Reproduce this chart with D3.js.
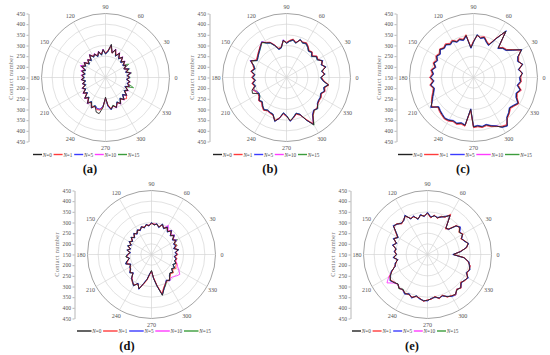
<!DOCTYPE html>
<html>
<head>
<meta charset="utf-8">
<script src="https://cdn.jsdelivr.net/npm/d3@7"></script>
<style>
  body { margin: 0; background: #fff; }
  svg { display: block; }
</style>
</head>
<body>
<script>
var angles = [0,5,10,15,20,25,30,35,40,45,50,55,60,65,70,75,80,85,90,95,100,105,110,115,
              120,125,130,135,140,145,150,155,160,165,170,175,180,185,190,195,200,205,210,215,220,225,230,235,
              240,245,250,255,260,265,270,275,280,285,290,295,300,305,310,315,320,325,330,335,340,345,350,355]

var seriesNames = ["0", "1", "5", "10", "15"]
var seriesColors = ["#222222", "#ff3b3b", "#3b3bff", "#ff3bff", "#3c9c3c"]
var radialTicks = [150, 200, 250, 300, 350, 400, 450]
var angleTicks = [0, 30, 60, 90, 120, 150, 180, 210, 240, 270, 300, 330]

// (a)
var aN0 = [262,252,270,248,266,244,262,250,268,252,275,258,282,262,290,270,308,272,262,282,258,276,256,272,
           262,280,255,268,250,272,258,275,250,266,248,262,250,264,246,262,250,270,258,278,262,288,272,298,
           282,308,292,318,322,292,242,282,302,286,300,278,292,270,286,264,280,258,272,252,270,256,266,250]
var aN1 = [258,256,266,252,262,248,258,254,264,256,270,262,278,266,286,268,300,276,266,278,262,272,260,268,
           266,276,260,264,254,268,262,270,254,262,252,258,254,260,250,258,254,266,262,274,266,284,276,292,
           286,300,296,306,305,290,248,278,298,290,296,282,288,274,282,290,276,262,268,256,266,260,262,254]
var aN5 = [265,250,268,246,268,246,260,248,266,250,272,256,280,260,288,268,302,270,260,280,256,274,254,270,
           260,278,253,266,248,270,256,273,248,264,246,260,248,262,244,260,248,268,256,276,260,286,270,296,
           280,304,290,300,302,284,250,286,304,288,298,276,290,268,284,262,278,256,270,250,268,254,264,248]
var aN10 = [260,254,272,250,264,246,264,252,270,254,277,260,284,264,292,272,304,274,264,284,260,278,258,274,
            264,282,257,270,252,274,262,282,256,270,250,266,252,266,248,264,252,272,260,280,264,290,274,300,
            284,306,294,305,300,288,246,284,300,288,302,280,294,272,288,266,282,260,274,254,272,258,268,252]
var aN15 = [266,256,274,252,270,248,275,254,266,250,273,256,280,260,288,268,298,270,260,280,256,274,254,270,
            260,278,253,266,248,270,256,273,248,264,246,260,248,262,244,260,248,268,256,276,260,286,270,296,
            280,302,290,302,300,288,252,284,300,284,298,276,290,268,284,262,278,256,270,252,290,258,268,250]

// (b)
var bN0 = [312,330,318,340,325,335,318,322,305,318,312,325,335,330,338,318,330,322,312,325,292,288,310,330,
           338,352,340,330,322,315,310,335,315,305,318,300,310,298,312,302,322,326,300,305,318,312,325,335,
           328,332,335,362,345,318,330,355,340,325,335,370,405,365,350,355,340,335,335,328,340,332,350,322]
var bN1 = [315,326,322,336,328,332,320,325,308,320,315,328,338,333,335,320,333,325,315,322,295,292,312,332,
           340,350,342,332,325,318,314,332,318,308,320,304,314,302,315,306,318,308,304,308,320,315,328,338,
           330,335,338,358,342,322,333,352,342,328,338,366,400,368,352,352,342,338,338,330,342,336,352,326]
var bN5 = [310,332,316,342,322,338,316,320,303,316,310,323,333,328,340,316,328,320,310,327,290,286,308,328,
           336,354,338,328,320,313,308,337,313,303,316,298,308,296,310,300,320,306,298,303,316,310,323,333,
           326,330,333,364,343,316,328,357,338,323,333,372,403,362,348,357,338,333,333,326,338,330,348,320]
var bN10 = [314,328,320,338,327,333,320,324,307,320,314,327,337,332,336,320,332,324,314,327,294,290,312,332,
            340,354,342,332,324,317,312,338,317,307,320,302,312,300,314,304,316,304,302,307,320,314,327,337,
            330,334,337,360,347,320,332,353,342,327,337,368,402,362,352,353,342,337,337,330,342,334,348,324]
var bN15 = [309,332,315,342,323,337,315,320,302,316,310,322,332,327,340,316,327,320,310,323,290,286,307,327,
            335,350,337,327,320,313,308,333,313,302,316,298,308,296,310,300,314,302,298,302,316,310,323,333,
            326,330,333,360,343,316,328,353,338,323,333,368,408,368,352,357,342,337,333,326,340,330,348,320]

// (c)
var cN0 = [368,380,365,388,372,380,410,375,350,345,330,415,360,318,328,345,338,350,318,290,350,332,340,335,
           348,340,352,345,355,342,350,338,348,335,350,340,352,338,355,342,350,362,375,392,365,372,378,385,
           382,375,380,372,378,300,382,378,385,380,392,402,418,425,395,385,372,380,392,372,365,378,360,372]
var cN1 = [372,377,368,384,375,384,406,378,354,348,334,410,364,322,332,348,342,346,322,294,354,336,344,338,
           352,344,356,348,358,346,354,342,352,338,354,344,356,342,358,345,354,366,378,388,368,376,382,388,
           386,378,384,376,382,305,385,382,388,384,395,404,414,420,398,388,376,384,395,376,368,382,364,375]
var cN5 = [365,382,362,390,369,378,412,372,347,342,327,418,357,315,325,342,335,352,315,287,347,329,337,332,
           345,337,349,342,352,339,347,335,345,332,347,337,349,335,352,339,347,359,372,396,362,369,375,382,
           379,372,377,369,375,297,379,375,382,377,389,400,420,428,392,382,369,377,389,369,362,375,357,369]
var cN10 = [370,378,367,386,374,382,408,377,352,347,332,412,362,320,330,347,340,348,320,292,352,334,342,337,
            350,342,354,347,357,344,352,340,350,337,352,342,354,340,357,344,352,364,377,390,367,374,380,387,
            384,377,382,374,380,302,384,380,387,382,394,400,416,422,397,387,374,382,394,374,367,380,362,374]
var cN15 = [366,381,364,389,371,380,411,374,349,344,329,416,359,317,327,344,337,351,317,289,349,331,339,334,
            347,339,351,344,354,341,349,337,347,334,349,339,351,337,354,341,349,361,374,393,364,371,377,384,
            381,374,379,371,377,299,381,377,384,379,391,401,419,426,394,384,371,379,394,371,364,377,359,371]

// (d)
var dN0 = [270,262,278,258,272,265,282,270,288,275,295,280,298,285,300,282,295,290,298,285,292,280,288,275,
           282,268,278,262,274,258,270,255,268,252,266,250,262,270,255,268,278,258,266,270,282,272,295,305,
           318,300,322,290,268,240,225,262,300,348,320,305,290,298,282,272,280,265,275,260,272,262,268,258]
var dN1 = [274,265,274,262,276,268,278,274,284,278,291,284,294,288,296,285,292,293,294,288,288,284,285,278,
           278,272,275,265,270,262,266,258,264,256,262,254,258,266,258,264,274,262,263,273,278,275,292,308,
           314,304,318,294,272,244,230,258,296,340,316,302,294,295,286,276,284,270,282,276,275,265,272,262]
var dN5 = [268,260,280,256,270,263,284,268,290,273,297,278,300,283,302,280,297,288,300,283,294,278,290,273,
           284,266,280,260,276,256,272,253,270,250,268,248,264,268,253,270,280,256,268,268,284,270,297,303,
           320,298,324,288,266,238,228,264,302,345,322,303,288,300,280,274,278,267,273,262,270,264,266,256]
var dN10 = [272,266,276,262,274,268,286,274,292,280,298,286,308,288,298,285,292,294,296,288,290,283,286,278,
            280,271,276,265,272,261,268,258,266,255,264,253,260,267,258,266,276,260,264,272,280,274,292,306,
            315,302,320,292,270,242,232,260,298,342,318,303,292,300,292,296,305,312,298,285,278,268,270,262]
var dN15 = [269,263,279,259,278,270,290,272,292,277,296,281,297,284,301,283,296,289,299,286,293,281,289,276,
            283,269,279,263,275,259,271,256,269,253,267,251,263,271,256,269,279,259,267,271,283,273,296,306,
            319,301,321,291,269,241,227,263,301,346,322,308,292,297,283,273,281,266,276,261,273,263,269,259]

// (e)
var eN0 = [270,305,335,348,335,325,340,332,348,340,305,300,362,345,338,328,335,325,345,330,338,322,340,335,
           360,345,340,352,358,330,310,325,305,318,300,305,295,310,292,305,312,335,352,362,355,345,358,350,
           362,355,365,352,360,368,365,358,352,362,355,368,375,378,365,370,355,362,368,352,360,355,345,322]
var eN1 = [274,302,338,345,338,322,343,330,345,343,308,296,368,342,341,325,338,322,342,333,335,325,337,338,
           356,348,337,355,355,333,313,322,308,315,303,302,298,307,295,302,315,332,355,360,352,348,355,353,
           359,358,362,355,357,371,362,361,349,365,352,371,372,381,362,373,352,365,365,355,357,358,342,325]
var eN5 = [268,307,333,350,332,328,338,336,352,338,303,302,360,348,336,331,333,328,348,328,341,320,343,333,
           363,343,343,350,361,328,308,328,303,321,298,308,293,313,290,308,310,338,350,365,352,348,355,353,
           365,352,368,350,363,366,368,356,355,360,358,366,378,382,362,372,358,360,371,350,362,353,348,320]
var eN10 = [272,303,336,346,336,324,341,333,346,341,306,298,364,344,339,327,336,324,344,331,337,323,339,336,
            358,346,339,353,356,331,311,324,306,317,301,304,296,309,294,304,313,334,360,382,358,347,357,351,
            361,356,364,353,359,369,364,359,351,363,354,369,374,379,364,371,354,363,367,353,359,356,344,323]
var eN15 = [271,306,334,349,334,326,339,331,349,339,304,301,361,346,337,329,334,326,346,329,339,321,341,334,
            361,344,341,351,359,329,309,326,304,319,299,306,294,311,291,306,311,336,351,363,354,346,359,349,
            363,354,366,351,361,367,366,357,353,361,356,367,376,377,366,369,356,361,369,351,361,354,346,321]

var panels = [
  {label: "(a)", cx: 105.5, cy: 77.5,  legendX: 33,  legendY: 154.5, lineLen: 9,    labelX: 90,  labelY: 169, series: [aN0, aN1, aN5, aN10, aN15]},
  {label: "(b)", cx: 286.5, cy: 77.5,  legendX: 213, legendY: 154.5, lineLen: 9,    labelX: 270, labelY: 169, series: [bN0, bN1, bN5, bN10, bN15]},
  {label: "(c)", cx: 473.5, cy: 77.5,  legendX: 398, legendY: 154.5, lineLen: 14.5, labelX: 463, labelY: 169, series: [cN0, cN1, cN5, cN10, cN15]},
  {label: "(d)", cx: 151.5, cy: 254.5, legendX: 77,  legendY: 331,   lineLen: 14.5, labelX: 127, labelY: 346, series: [dN0, dN1, dN5, dN10, dN15]},
  {label: "(e)", cx: 427.5, cy: 254.5, legendX: 352, legendY: 331,   lineLen: 9,    labelX: 412, labelY: 346, series: [eN0, eN1, eN5, eN10, eN15]}
]

var R = 64
var serif = "'Liberation Serif', 'DejaVu Serif', serif"
var rScale = d3.scaleLinear()
               .domain([150, 450])
               .range([0, R])

var svg = d3.select("body")
            .append("svg")
            .attr("width", 550)
            .attr("height", 355)

panels.forEach(drawPanel)

function rad (deg) {
  return deg * Math.PI / 180
}

function drawPanel (p) {
  var g = svg.append("g")
             .attr("transform", "translate(" + p.cx + "," + p.cy + ")")

  g.selectAll(".ring")
   .data(radialTicks.slice(1))
   .enter()
   .append("circle")
   .attr("class", "ring")
   .attr("r", d => rScale(d))
   .attr("fill", "none")
   .attr("stroke", d => d === 450 ? "#8a8a8a" : "#cfcfcf")
   .attr("stroke-width", d => d === 450 ? 0.8 : 0.6)

  g.selectAll(".spoke")
   .data(angleTicks)
   .enter()
   .append("line")
   .attr("class", "spoke")
   .attr("x1", 0)
   .attr("y1", 0)
   .attr("x2", d => R * Math.cos(rad(d)))
   .attr("y2", d => -R * Math.sin(rad(d)))
   .attr("stroke", "#cfcfcf")
   .attr("stroke-width", 0.6)

  g.selectAll(".alabel")
   .data(angleTicks)
   .enter()
   .append("text")
   .attr("class", "alabel")
   .attr("x", d => (R + 6.5) * Math.cos(rad(d)))
   .attr("y", d => -(R + 6.5) * Math.sin(rad(d)))
   .attr("text-anchor", "middle")
   .attr("dominant-baseline", "central")
   .attr("font-family", serif)
   .attr("font-size", 6.1)
   .attr("fill", "#555")
   .text(d => d)

  var line = d3.lineRadial()
               .angle((d, i) => rad(90 - angles[i]))
               .radius(d => rScale(d))
               .curve(d3.curveLinearClosed)

  // N=15 first so the N=0 trace ends up on top
  var order = [4, 3, 2, 1, 0]
  g.selectAll(".series")
   .data(order)
   .enter()
   .append("path")
   .attr("class", "series")
   .attr("d", k => line(p.series[k]))
   .attr("fill", "none")
   .attr("stroke", k => seriesColors[k])
   .attr("stroke-width", 0.9)
   .attr("stroke-linejoin", "round")

  // left axis: 450 at top, 150 at the pole, 450 again at the bottom
  var yTop = d3.scaleLinear().domain([150, 450]).range([0, -R])
  var yBot = d3.scaleLinear().domain([150, 450]).range([0, R])
  var ax = svg.append("g")
              .attr("transform", "translate(" + (p.cx - 77) + "," + p.cy + ")")
  ax.append("g").call(d3.axisLeft(yTop).tickValues(radialTicks).tickSize(2).tickSizeOuter(0).tickPadding(1.5))
  ax.append("g").call(d3.axisLeft(yBot).tickValues(radialTicks.slice(1)).tickSize(2).tickSizeOuter(0).tickPadding(1.5))
  ax.selectAll("path, line").attr("stroke", "#888").attr("stroke-width", 0.6)
  ax.selectAll("text")
    .attr("font-family", serif)
    .attr("font-size", 5.6)
    .attr("fill", "#555")

  ax.append("text")
    .attr("transform", "translate(-18,0) rotate(-90)")
    .attr("text-anchor", "middle")
    .attr("dominant-baseline", "central")
    .attr("font-family", serif)
    .attr("font-size", 6.3)
    .attr("letter-spacing", 0.3)
    .attr("fill", "#777")
    .text("Contact number")

  // legend
  var lg = svg.append("g")
              .attr("transform", "translate(" + p.legendX + "," + p.legendY + ")")
  var x = 0
  seriesNames.forEach(function (name, i) {
    lg.append("line")
      .attr("x1", x)
      .attr("x2", x + p.lineLen)
      .attr("y1", 0)
      .attr("y2", 0)
      .attr("stroke", seriesColors[i])
      .attr("stroke-width", 1.4)
    x += p.lineLen + 0.8
    var t = lg.append("text")
              .attr("x", x)
              .attr("y", 0)
              .attr("dominant-baseline", "central")
              .attr("font-family", serif)
              .attr("font-size", 5.2)
              .attr("fill", "#444")
    t.append("tspan").attr("font-style", "italic").text("N")
    t.append("tspan").text("=" + name)
    x += t.node().getComputedTextLength() + 1.8
  })

  svg.append("text")
     .attr("x", p.labelX)
     .attr("y", p.labelY)
     .attr("text-anchor", "middle")
     .attr("dominant-baseline", "central")
     .attr("font-family", serif)
     .attr("font-weight", "bold")
     .attr("font-size", 12.5)
     .attr("fill", "#111")
     .text(p.label)
}
</script>
</body>
</html>
